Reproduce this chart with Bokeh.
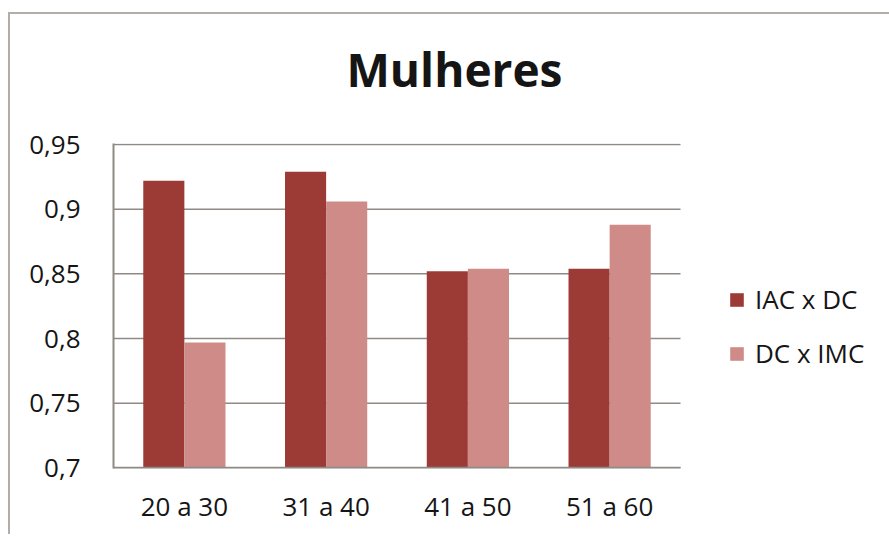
from bokeh.plotting import figure
from bokeh.layouts import column
from bokeh.models import (ColumnDataSource, Range1d, Legend, LegendItem, Div,
                          CustomJSTickFormatter, FixedTicker)
from bokeh.embed import file_html
from bokeh.resources import INLINE

categories = ["20 a 30", "31 a 40", "41 a 50", "51 a 60"]
iac_dc = [0.922, 0.929, 0.852, 0.854]
dc_imc = [0.797, 0.906, 0.854, 0.888]
series = ["IAC x DC", "DC x IMC"]
colors = ["#9C3B36", "#CE8B87"]
y_ticks = [0.7, 0.75, 0.8, 0.85, 0.9, 0.95]
title = "Mulheres"

FONT = "Open Sans"
GREY = "#8f8a85"
w = 0.29

idx = list(range(len(categories)))
x0 = -0.5
x1 = len(categories) - 0.5

src = ColumnDataSource(dict(xa=[i - w / 2 for i in idx], xb=[i + w / 2 for i in idx],
                            a=iac_dc, b=dc_imc))
grid_src = ColumnDataSource(dict(x0=[x0] * len(y_ticks), x1=[x1] * len(y_ticks),
                                 y=y_ticks))

head = Div(text=('<div style="width:877px;box-sizing:border-box;padding-left:2px;'
                 'padding-top:19px;text-align:center;font-family:\'Open Sans\';'
                 'font-size:46px;font-weight:bold;color:#151515;line-height:normal;">'
                 + title + '</div>'),
           width=877, height=85)

p = figure(x_range=Range1d(x0, 4.925), y_range=Range1d(0.6995, 0.9508),
           width=877, height=425, output_backend="svg", toolbar_location=None,
           title=None,
           min_border_left=103, min_border_right=5, min_border_top=34,
           min_border_bottom=66, background_fill_color="white",
           border_fill_color="white", outline_line_color=None)

p.segment(x0="x0", x1="x1", y0="y", y1="y", source=grid_src,
          line_color=GREY, line_width=1.5)
r1 = p.vbar(x="xa", top="a", bottom=y_ticks[0], width=w,
            source=src, fill_color=colors[0], line_color=None)
r2 = p.vbar(x="xb", top="b", bottom=y_ticks[0], width=w,
            source=src, fill_color=colors[1], line_color=None)
p.segment(x0=[x0], x1=[x1], y0=[y_ticks[0]], y1=[y_ticks[0]],
          line_color=GREY, line_width=2)

p.yaxis.ticker = FixedTicker(ticks=y_ticks)
p.yaxis.formatter = CustomJSTickFormatter(
    code="return (Math.round(tick*100)/100).toString().replace('.', ',');")
p.xaxis.ticker = FixedTicker(ticks=idx)
p.xaxis.major_label_overrides = {i: c for i, c in zip(idx, categories)}
for ax in (p.xaxis[0], p.yaxis[0]):
    ax.major_tick_line_color = None
    ax.minor_tick_line_color = None
    ax.major_label_text_font = FONT
    ax.major_label_text_font_size = "26px"
    ax.major_label_text_color = "#151515"
p.yaxis.axis_line_color = GREY
p.yaxis.axis_line_width = 2
p.xaxis.axis_line_color = None
p.yaxis.major_label_standoff = 27
p.xaxis.major_label_standoff = 13

p.xgrid.grid_line_color = None
p.ygrid.grid_line_color = None

legend = Legend(items=[LegendItem(label=series[0], renderers=[r1]),
                       LegendItem(label=series[1], renderers=[r2])],
                location=(615, 97), orientation="vertical",
                glyph_width=17, glyph_height=17, spacing=18, padding=0, margin=0,
                label_text_font=FONT, label_text_font_size="26px",
                label_text_color="#151515", label_standoff=10,
                border_line_color=None, background_fill_alpha=0)
p.add_layout(legend, "center")

layout = column(head, p, spacing=0,
                styles={"border-left": "2px solid #b3ada7",
                        "border-top": "2px solid #b3ada7",
                        "margin-top": "12px", "margin-left": "8px",
                        "background-color": "white"})

open("out.html", "w").write(file_html(layout, INLINE))
